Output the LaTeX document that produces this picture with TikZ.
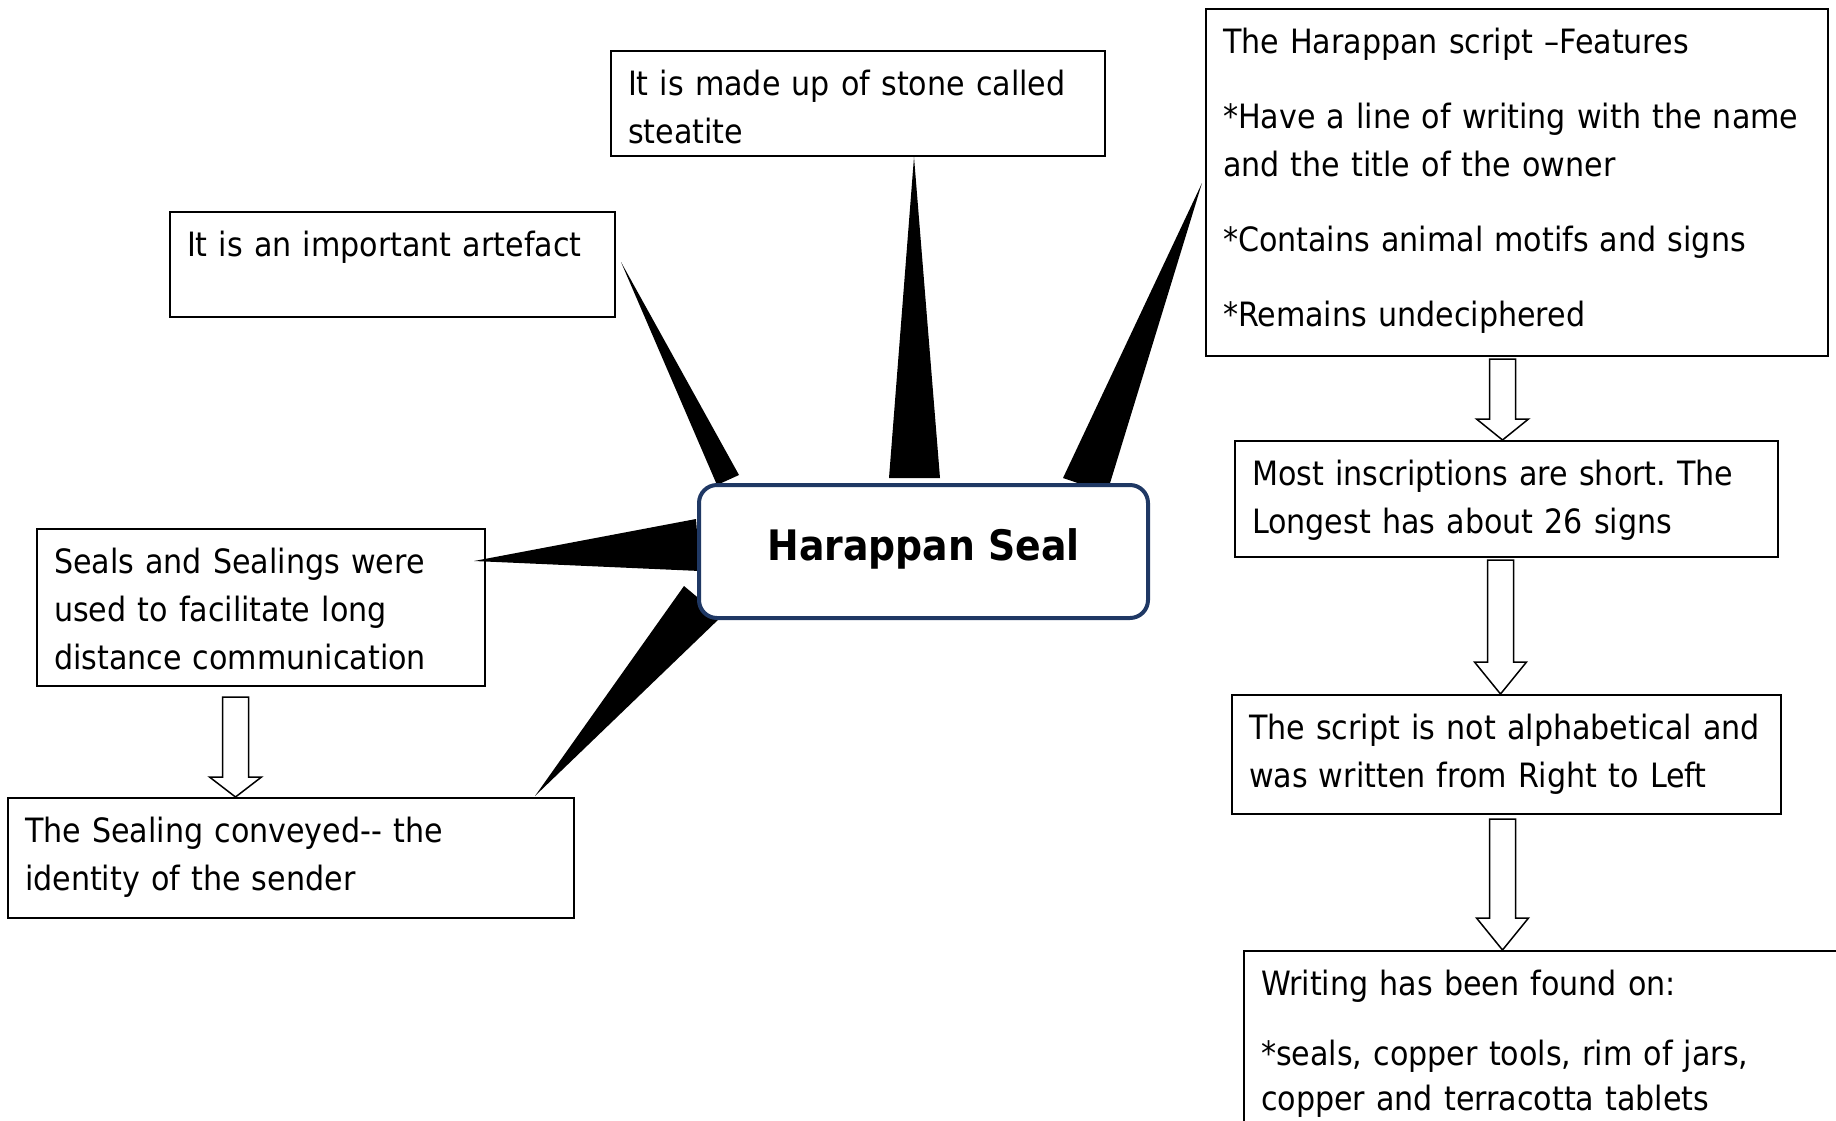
\documentclass[tikz,border=0pt]{standalone}
\usepackage{fontspec}
\setmainfont{DejaVu Sans Condensed}
\usetikzlibrary{shapes,calc,backgrounds}
\definecolor{sealblue}{RGB}{31,56,100}
\tikzset{
box/.style={
	  draw, line width=2pt, anchor=north west, align=left,
	    inner xsep=17pt, inner ysep=14pt, text height=30pt,
    font=\fontsize{33.5}{48}\selectfont\frenchspacing},
seal/.style={
	  draw=sealblue, line width=4pt, rounded corners=18pt, fill=white,
	    minimum width=449pt, minimum height=133pt, text depth=13pt,
    font=\bfseries\fontsize{42}{50}\selectfont},
spike/.style={fill=black},
blockarrow/.style={draw, line width=1.5pt, fill=white, line join=miter}
}
\newcommand{\hollowdown}[3][28pt]{%
	\draw[blockarrow] let \p1=(#2), \p2=(#3) in
		(\x1-13pt,\y1) -- (\x1-13pt,\y2+#1) -- (\x1-26pt,\y2+#1) -- (\x1,\y2)
		-- (\x1+26pt,\y2+#1) -- (\x1+13pt,\y2+#1) -- (\x1+13pt,\y1) -- cycle;}

\begin{document}
\begin{tikzpicture}[x=1pt, y=-1pt]
	\clip (0,0) rectangle (1836,1120);
	\node[seal] (seal) at (923.5,551.5) {Harappan Seal};
	\node[box, text width=460pt, text depth=47pt] (steatite) at (610,50)
		{It is made up of stone called\\steatite};
	\node[box, text width=411pt, text depth=47pt] (artefact) at (169,211)
		{It is an important artefact};
	\node[box, text width=588pt, text depth=289pt] (script) at (1205,8)
		{The Harappan script –Features\\[27pt]
		*Have a line of writing with the~name\\and the title of the owner\\[27pt]
		*Contains animal motifs and signs\\[27pt]
		*Remains undeciphered};
	\node[box, text width=414pt, text depth=99pt] (sealings) at (36,528)
		{Seals and Sealings were\\used to facilitate long\\distance communication};
	\node[box, text width=532pt, text depth=62pt] (sender) at (7,797)
		{The Sealing conveyed-\kern0pt- the\\identity of the sender};
	\node[box, text width=509pt, text depth=58pt] (short) at (1234,440)
		{Most inscriptions are short. The\\Longest has about 26 signs};
	\node[box, text width=515pt, text depth=61pt] (direction) at (1231,694)
		{The script is not alphabetical~and\\was written from Right to Left};
	\node[box, text width=621pt, text depth=170pt] (writing) at (1243,950)
		{Writing has been found on:\\[22pt]
		*seals, copper tools, rim of jars,\\[-3pt]copper and terracotta tablets};
	\begin{pgfonlayer}{background}
		\fill[spike] ($(artefact.east)+(5,-2.5)$) -- ($(seal.north west)+(20,2)$)
			-- ($(seal.north west)+(42,-8)$) -- cycle;
		\fill[spike] ($(steatite.south)+(56,0)$) -- ($(seal.north)+(-34.5,-5)$)
			-- ($(seal.north)+(16.5,-5)$) -- cycle;
		\fill[spike] ($(script.west)+(-3,0.5)$) -- ($(seal.north east)+(-87,-5)$)
			-- ($(seal.north east)+(-43,10)$) -- cycle;
		\fill[spike] ($(sealings.east)+(-12,-46.5)$) -- ($(seal.west)+(-1,-32.5)$)
			-- ($(seal.west)+(3,19.5)$) -- cycle;
		\fill[spike] ($(sender.north)+(244,-1)$) -- ($(seal.south west)+(-13,-34)$)
			-- ($(seal.south west)+(24,-3)$) -- cycle;
	\end{pgfonlayer}
	\hollowdown[20pt]{$(sealings.south)+(-25.5,10)$}{sender.north}
	\hollowdown[21pt]{$(script.south)+(-14.5,2)$}{short.north}
	\hollowdown[32pt]{$(short.south)+(-6,2)$}{direction.north}
	\hollowdown[32pt]{$(direction.south)+(-4,4)$}{writing.north}
\end{tikzpicture}
\end{document}
